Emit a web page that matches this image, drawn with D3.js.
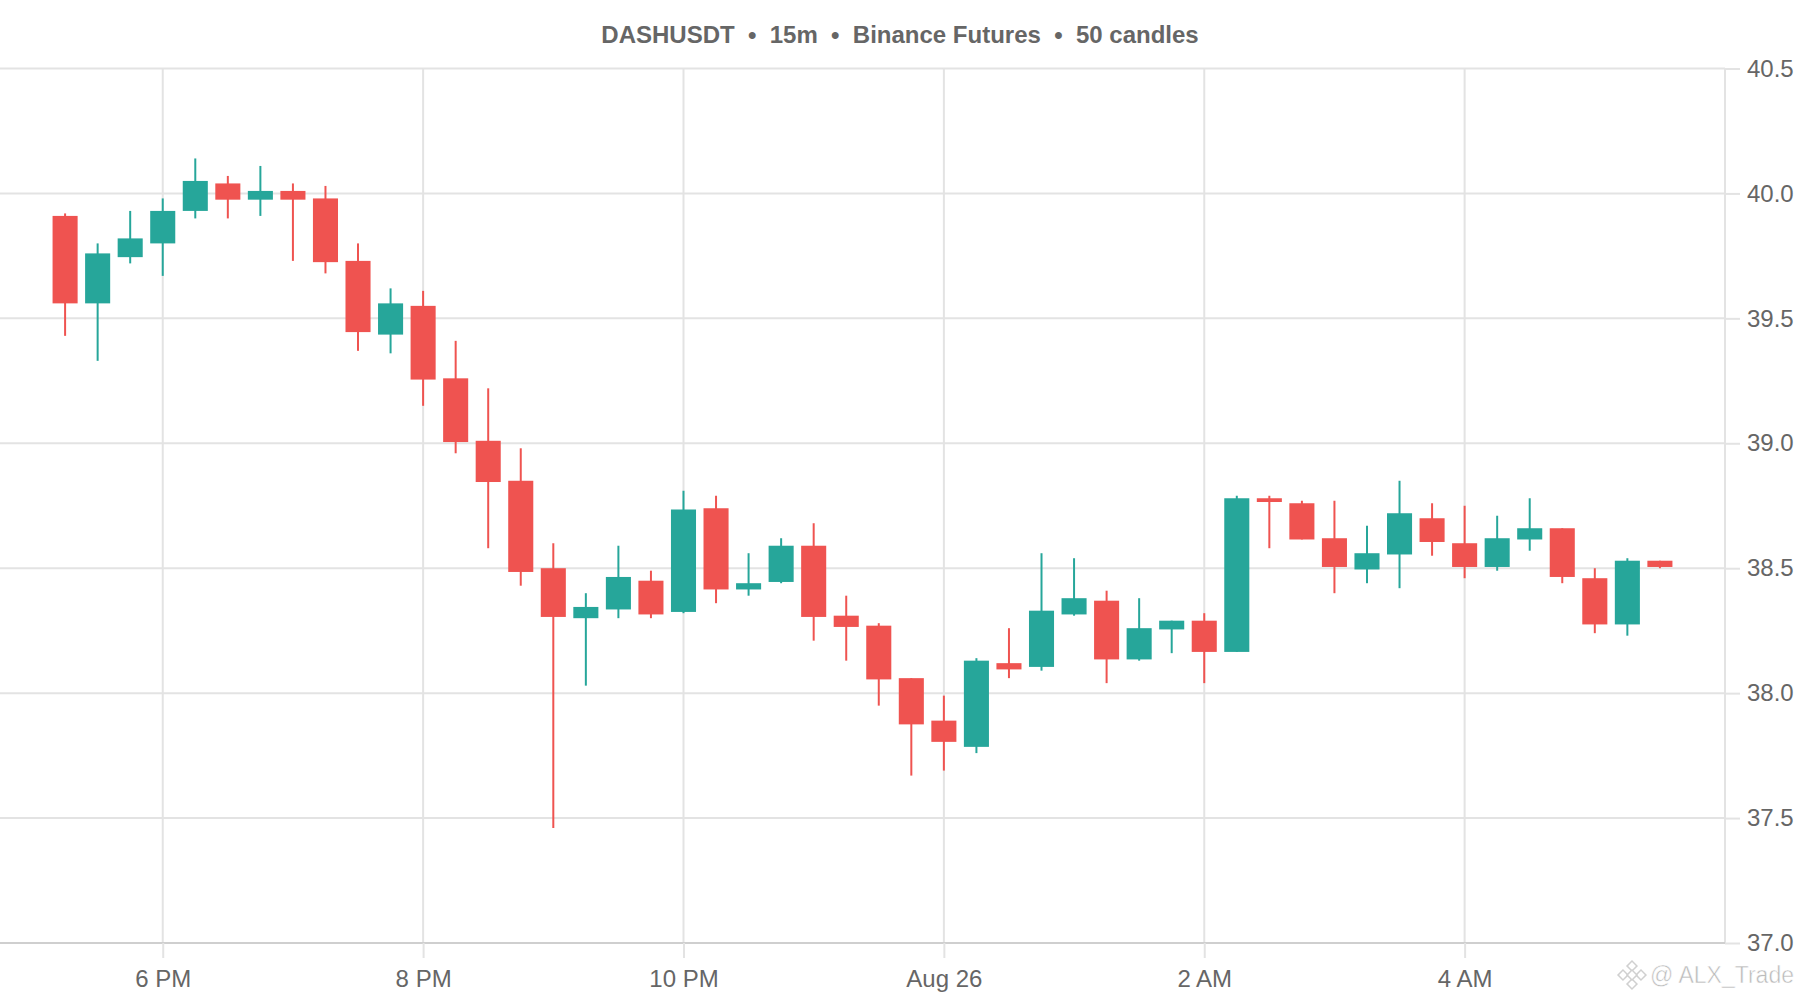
<!DOCTYPE html>
<html>
<head>
<meta charset="utf-8">
<script src="https://cdn.jsdelivr.net/npm/d3@7"></script>
<style>
body { margin: 0; background: #fff; }
text { font-family: "Liberation Sans", Arial, sans-serif; }
</style>
</head>
<body>
<div id="plot"></div>
<script>

// 15m candles, first one opens 17:15 on Aug 25
var startTime = new Date(2025, 7, 25, 17, 15);

var opens  = [39.91, 39.56, 39.745, 39.80, 39.93, 40.04, 39.975, 40.01, 39.98, 39.73,
              39.435, 39.55, 39.26, 39.01, 38.85, 38.50, 38.30, 38.335, 38.45, 38.325,
              38.74, 38.415, 38.445, 38.59, 38.31, 38.27, 38.06, 37.89, 37.785, 38.12,
              38.105, 38.315, 38.37, 38.135, 38.255, 38.29, 38.165, 38.78, 38.76, 38.62,
              38.495, 38.555, 38.70, 38.60, 38.505, 38.615, 38.66, 38.46, 38.275, 38.53];
var highs  = [39.92, 39.80, 39.93, 39.98, 40.14, 40.07, 40.11, 40.04, 40.03, 39.80,
              39.62, 39.61, 39.41, 39.22, 38.98, 38.60, 38.40, 38.59, 38.49, 38.81,
              38.79, 38.56, 38.62, 38.68, 38.39, 38.28, 38.06, 37.99, 38.14, 38.26,
              38.56, 38.54, 38.41, 38.38, 38.29, 38.32, 38.79, 38.79, 38.77, 38.77,
              38.67, 38.85, 38.76, 38.75, 38.71, 38.78, 38.66, 38.50, 38.54, 38.53];
var lows   = [39.43, 39.33, 39.72, 39.67, 39.90, 39.90, 39.91, 39.73, 39.68, 39.37,
              39.36, 39.15, 38.96, 38.58, 38.43, 37.46, 38.03, 38.30, 38.30, 38.32,
              38.36, 38.39, 38.44, 38.21, 38.13, 37.95, 37.67, 37.69, 37.76, 38.06,
              38.09, 38.31, 38.04, 38.13, 38.16, 38.04, 38.165, 38.58, 38.615, 38.40,
              38.44, 38.42, 38.55, 38.46, 38.49, 38.57, 38.44, 38.24, 38.23, 38.50];
var closes = [39.56, 39.76, 39.82, 39.93, 40.05, 39.975, 40.01, 39.975, 39.725, 39.445,
              39.56, 39.255, 39.005, 38.845, 38.485, 38.305, 38.345, 38.465, 38.315, 38.735,
              38.415, 38.44, 38.59, 38.305, 38.265, 38.055, 37.875, 37.805, 38.13, 38.095,
              38.33, 38.38, 38.135, 38.26, 38.29, 38.165, 38.78, 38.765, 38.615, 38.505,
              38.56, 38.72, 38.605, 38.505, 38.62, 38.66, 38.465, 38.275, 38.53, 38.505];

var xTicks = [new Date(2025, 7, 25, 18), new Date(2025, 7, 25, 20), new Date(2025, 7, 25, 22),
              new Date(2025, 7, 26, 0), new Date(2025, 7, 26, 2), new Date(2025, 7, 26, 4)];
var xTickLabels = ["6 PM", "8 PM", "10 PM", "Aug 26", "2 AM", "4 AM"];
var yTicks = [37.0, 37.5, 38.0, 38.5, 39.0, 39.5, 40.0, 40.5];

var upColor = "#26a69a";
var downColor = "#ef5350";
var gridColor = "#e3e3e3";

var candles = opens.map(function(o, i){
	return {
		time: d3.timeMinute.offset(startTime, 15 * i),
		open: o,
		high: highs[i],
		low: lows[i],
		close: closes[i]
	};
});

var svg = d3.select("#plot")
	.append("svg")
	.attr("width", 1800)
	.attr("height", 1000);

var plotRight = 1725;
var plotTop = 68.5;
var plotBottom = 943;

var x = d3.scaleTime()
	.domain([d3.timeMinute.offset(startTime, -30), d3.timeMinute.offset(startTime, 15 * 49 + 30)])
	.range([0, plotRight]);

var y = d3.scaleLinear()
	.domain([37, 40.5])
	.range([plotBottom, plotTop]);

var step = x(d3.timeMinute.offset(startTime, 15)) - x(startTime);
var bodyWidth = step * 0.77;

// grid
svg.append("g")
	.selectAll("line")
	.data(yTicks)
	.join("line")
	.attr("x1", 0)
	.attr("x2", plotRight)
	.attr("y1", function(d){ return y(d); })
	.attr("y2", function(d){ return y(d); })
	.style("stroke", gridColor)
	.style("stroke-width", 2);

svg.append("g")
	.selectAll("line")
	.data(xTicks)
	.join("line")
	.attr("x1", function(d){ return x(d); })
	.attr("x2", function(d){ return x(d); })
	.attr("y1", plotTop)
	.attr("y2", plotBottom)
	.style("stroke", gridColor)
	.style("stroke-width", 2);

svg.append("line")
	.attr("x1", plotRight)
	.attr("x2", plotRight)
	.attr("y1", plotTop)
	.attr("y2", plotBottom)
	.style("stroke", gridColor)
	.style("stroke-width", 2);

// axes
var xAxis = svg.append("g")
	.attr("transform", "translate(0," + plotBottom + ")")
	.call(d3.axisBottom(x)
		.tickValues(xTicks)
		.tickSize(15)
		.tickPadding(12)
		.tickFormat(function(d, i){ return xTickLabels[i]; }));

xAxis.select(".domain")
	.attr("d", "M0,0H" + plotRight)
	.style("stroke", "#cfcfcf")
	.style("stroke-width", 2);

var yAxis = svg.append("g")
	.attr("transform", "translate(" + plotRight + ",0)")
	.call(d3.axisRight(y)
		.tickValues(yTicks)
		.tickSize(15)
		.tickPadding(7)
		.tickFormat(d3.format(".1f")));

yAxis.select(".domain").remove();

svg.selectAll(".tick line")
	.style("stroke", gridColor)
	.style("stroke-width", 2);

svg.selectAll(".tick text")
	.style("font-family", "'Liberation Sans', Arial, sans-serif")
	.style("font-size", "24px")
	.style("fill", "#666");

// candles
var candle = svg.append("g")
	.selectAll("g")
	.data(candles)
	.join("g");

candle.append("line")
	.attr("x1", function(d){ return x(d.time); })
	.attr("x2", function(d){ return x(d.time); })
	.attr("y1", function(d){ return y(d.high); })
	.attr("y2", function(d){ return y(d.low); })
	.style("stroke", function(d){ return d.close >= d.open ? upColor : downColor; })
	.style("stroke-width", 2);

candle.append("rect")
	.attr("x", function(d){ return x(d.time) - bodyWidth / 2; })
	.attr("width", bodyWidth)
	.attr("y", function(d){ return y(Math.max(d.open, d.close)); })
	.attr("height", function(d){ return Math.max(2, Math.abs(y(d.open) - y(d.close))); })
	.style("fill", function(d){ return d.close >= d.open ? upColor : downColor; });

// title
svg.append("text")
	.attr("x", 900)
	.attr("y", 43)
	.attr("text-anchor", "middle")
	.style("white-space", "pre")
	.style("font-size", "24px")
	.style("font-weight", "bold")
	.style("fill", "#666")
	.text("DASHUSDT  \u2022  15m  \u2022  Binance Futures  \u2022  50 candles");

// watermark
var mark = svg.append("g")
	.attr("transform", "translate(1632,975)")
	.style("opacity", 0.55);

[[0, -9], [-9, 0], [9, 0], [0, 9], [0, 0]].forEach(function(p){
	mark.append("rect")
		.attr("x", p[0] - 3.5)
		.attr("y", p[1] - 3.5)
		.attr("width", 7)
		.attr("height", 7)
		.attr("transform", "rotate(45 " + p[0] + " " + p[1] + ")")
		.style("fill", "#fff")
		.style("stroke", "#aaa")
		.style("stroke-width", 1.5);
});

svg.append("text")
	.attr("x", 1650)
	.attr("y", 983)
	.style("font-size", "23px")
	.style("fill", "#bbb")
	.style("stroke", "#fff")
	.style("stroke-width", 0.5)
	.text("@ ALX_Trade");

</script>
</body>
</html>
